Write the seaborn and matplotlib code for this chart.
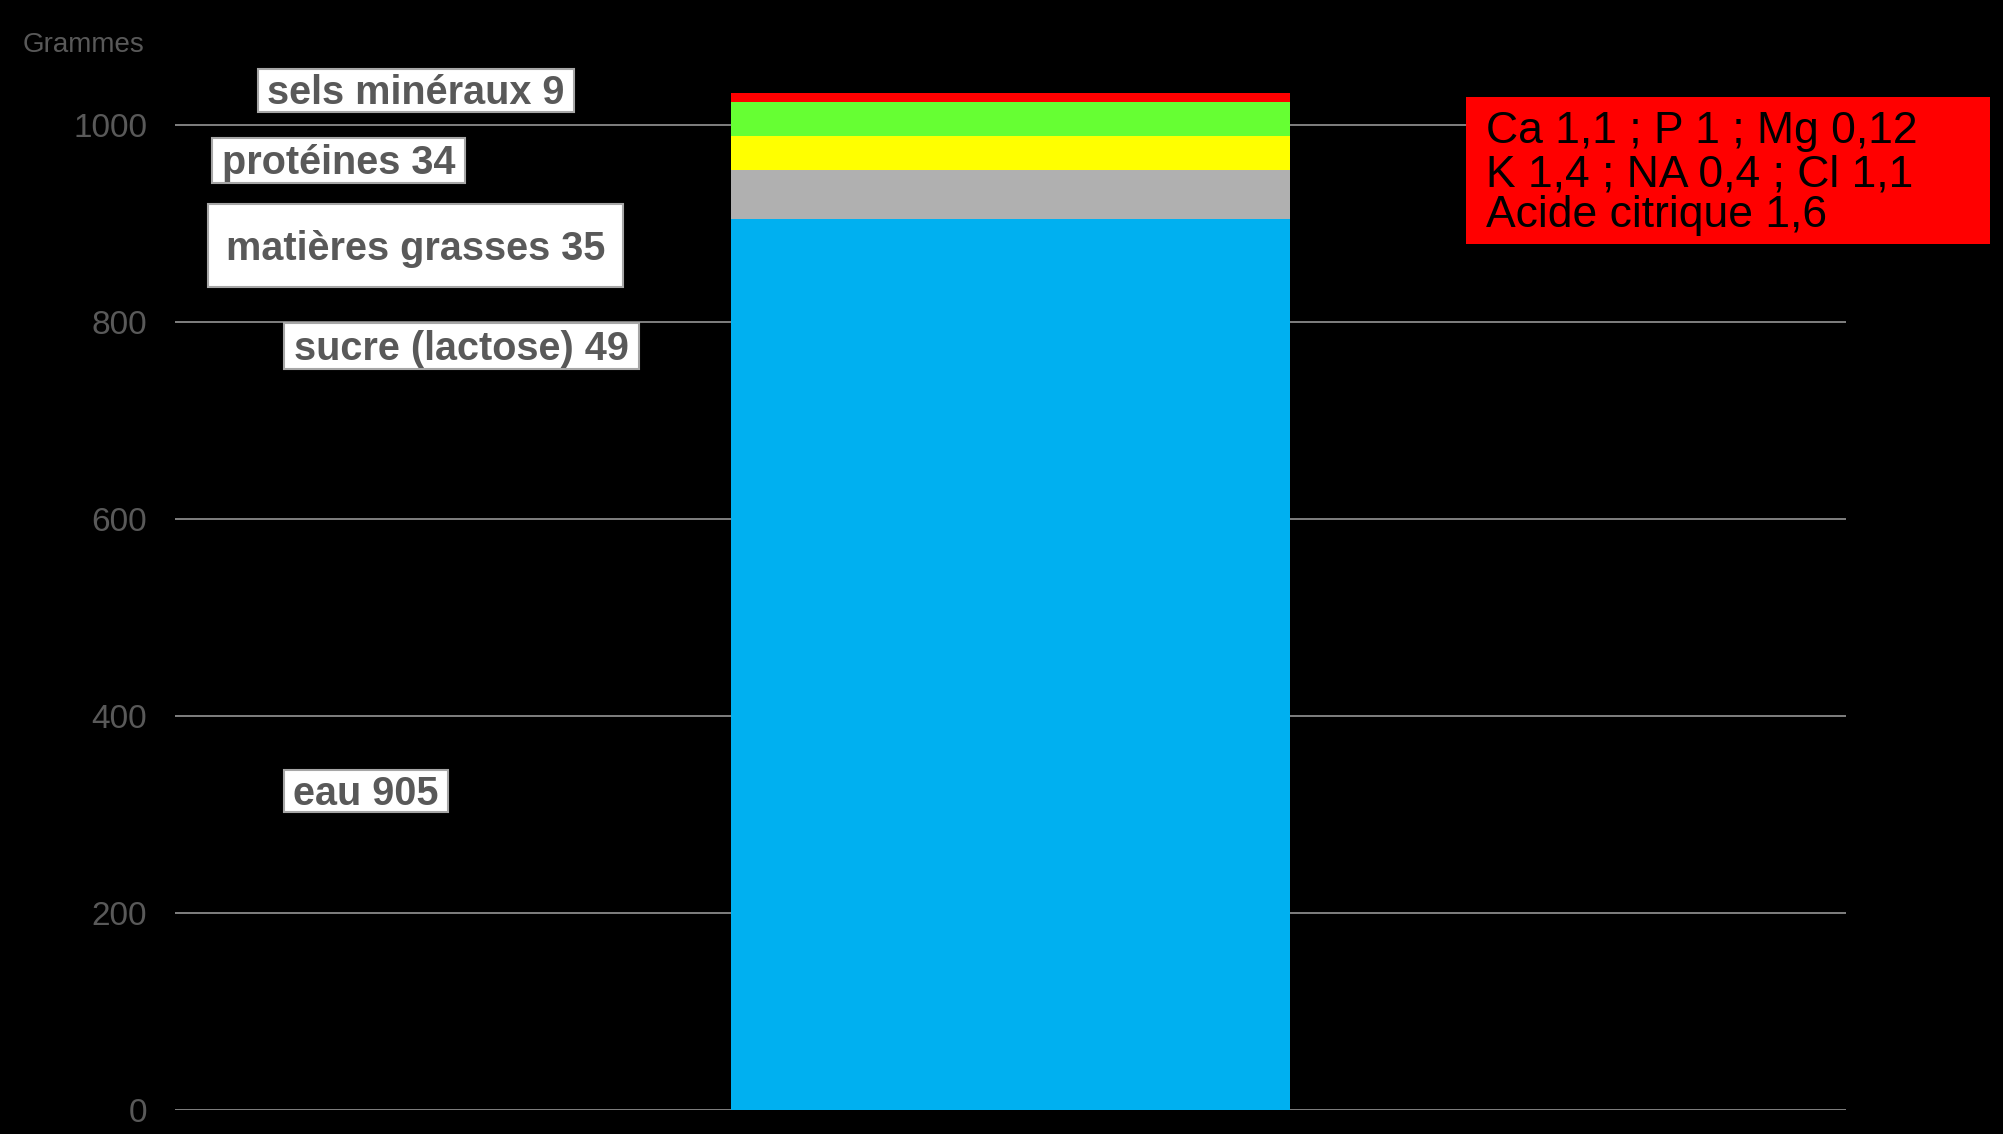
import matplotlib
matplotlib.use("Agg")
import matplotlib.pyplot as plt
import seaborn as sns
import pandas as pd
import numpy as np
from matplotlib.patches import Rectangle

# ---- data ----
components = ["eau", "sucre (lactose)", "matières grasses", "protéines", "sels minéraux"]
values = [905, 49, 35, 34, 9]
colors = ["#00B0F0", "#B0B0B0", "#FFFF00", "#66FF33", "#FF0000"]
label_texts = ["eau 905", "sucre (lactose) 49", "matières grasses 35", "protéines 34", "sels minéraux 9"]
minerals_lines = ["Ca 1,1 ; P 1 ; Mg 0,12", "K 1,4 ; NA 0,4 ; Cl 1,1", "Acide citrique 1,6"]
yticks = [0, 200, 400, 600, 800, 1000]
y_title = "Grammes"

# ---- layout (pixels) ----
W, H = 2003, 1134
label_boxes = [  # x0, x1, y0, y1 in pixels from top-left
    (284, 448, 770, 812),
    (284, 639, 323, 369),
    (208, 623, 204, 287),
    (212, 465, 138, 183),
    (258, 574, 69, 112),
]
red_box = (1466, 1990, 97, 244)
red_lines_y = [131, 175, 215]
red_text_x = 1486

sns.set_theme(style="dark")
plt.rcParams['font.family'] = ['Liberation Sans', 'DejaVu Sans']

fig = plt.figure(figsize=(W / 100, H / 100), dpi=100, facecolor="black")
ax = fig.add_axes([175 / W, (H - 1110) / H, (1846 - 175) / W, 1110 / H])
ax.set_facecolor("black")

cum = np.cumsum(values)
df = pd.DataFrame({"lait": ["lait"] * len(values), "cumul": cum, "composant": components})
for i in range(len(values) - 1, -1, -1):
    sns.barplot(data=df.iloc[[i]], x="lait", y="cumul", color=colors[i],
                width=559 / 1671, saturation=1, linewidth=0, ax=ax, zorder=3)

ax.set_xlim(-0.5, 0.5)
ax.set_ylim(0, 1110 / 0.985)
ax.set_yticks(yticks)
ax.set_yticklabels([str(t) for t in yticks], fontsize=24, color="#595959")
ax.tick_params(axis="y", length=0, pad=20)
ax.set_xticks([])
ax.set_xlabel("")
ax.set_ylabel("")
ax.yaxis.grid(True, color="#808080", linewidth=1.4)
ax.xaxis.grid(False)
ax.set_axisbelow(True)
for s in ax.spines.values():
    s.set_visible(False)

fig.text(84 / W, 1 - 45 / H, y_title, fontsize=20, color="#595959", ha="center", va="center")


def px_rect(x0, x1, y0, y1, **kw):
    return Rectangle((x0 / W, 1 - y1 / H), (x1 - x0) / W, (y1 - y0) / H,
                     transform=fig.transFigure, **kw)


for txt, (x0, x1, y0, y1) in zip(label_texts, label_boxes):
    fig.patches.append(px_rect(x0, x1, y0, y1, facecolor="white", edgecolor="#A6A6A6", linewidth=1.5, zorder=5))
    fig.text((x0 + x1) / 2 / W, 1 - ((y0 + y1) / 2 + 3) / H, txt, fontsize=28.5, fontweight="bold",
             color="#595959", ha="center", va="center", zorder=6)

fig.patches.append(px_rect(*red_box, facecolor="#FF0000", edgecolor="none", zorder=5))
for line, yy in zip(minerals_lines, red_lines_y):
    fig.text(red_text_x / W, 1 - yy / H, line, fontsize=32, color="black",
             ha="left", va="center", zorder=6)

fig.savefig("out.png", dpi=100, facecolor="black")
